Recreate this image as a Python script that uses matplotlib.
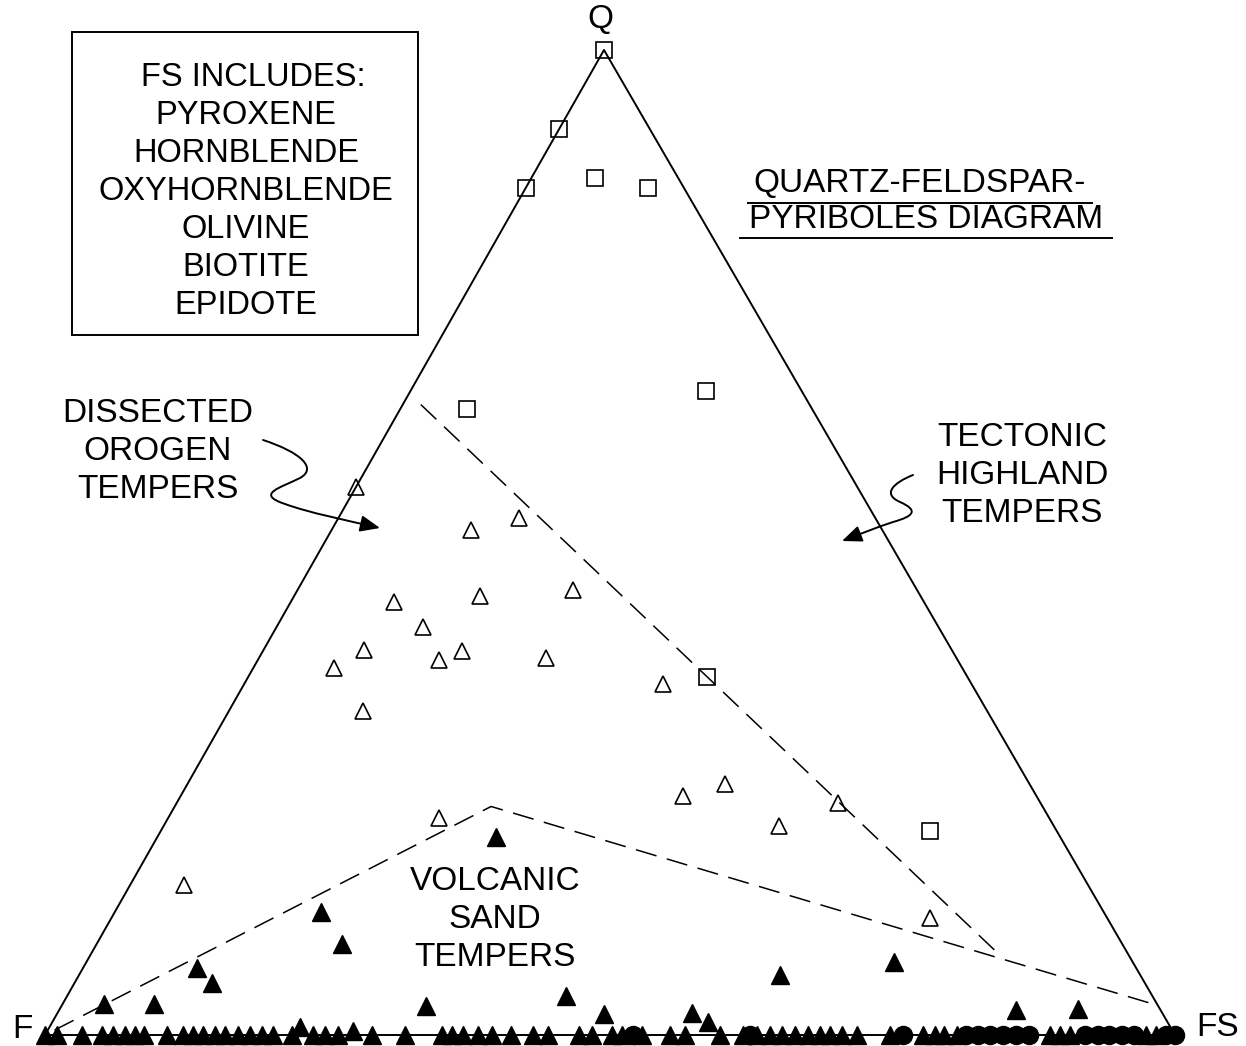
import numpy as np
import matplotlib.pyplot as plt
from matplotlib.path import Path
from matplotlib.patches import FancyArrowPatch, Rectangle

plt.rcParams['font.family'] = ['Liberation Sans', 'DejaVu Sans']

# compositions in percent, F = 100 - Q - FS
sq_q = [100, 92, 86, 87, 86, 63.6, 65.4, 36.3, 20.7]
sq_fs = [0, 0, 0, 5.6, 10.8, 5.9, 26.1, 40.6, 68.1]

open_q = [55.6, 51.3, 52.5, 44.0, 44.6, 45.2, 41.4, 39.1, 37.3, 38.1, 39.0,
          38.3, 35.6, 32.9, 24.3, 25.5, 21.2, 23.6, 22.0, 15.2, 11.9]
open_fs = [0, 12.3, 16.0, 9.1, 16.4, 24.4, 13.0, 8.9, 7.1, 16.0, 17.6,
           25.4, 37.1, 11.9, 44.4, 47.6, 54.5, 58.5, 24.0, 4.8, 72.4]

volc_q = [20.1, 12.5, 9.2, 6.8, 5.3, 3.1, 3.1, 2.9, 4.0, 2.1, 2.2, 1.3,
          6.1, 7.4, 2.5, 2.6, 0.8, 0.4]
volc_fs = [30.0, 18.2, 21.7, 10.1, 12.2, 3.7, 8.1, 32.3, 44.1, 48.4, 56.2,
           58.0, 62.0, 71.5, 84.7, 90.1, 22.2, 27.1]

# samples with no quartz (on the F-FS side)
base_tri_fs = [0, 1.1, 3.3, 5.0, 6.0, 7.1, 8.0, 8.8, 10.8, 12.2, 13.1, 14.0,
               15.0, 15.9, 17.1, 18.1, 19.2, 20.2, 21.9, 23.7, 24.8, 25.9,
               28.9, 31.9, 35.1, 36.0, 37.0, 38.3, 39.6, 41.2, 43.2, 44.5,
               47.3, 48.4, 50.2, 51.1, 52.8, 55.3, 56.6, 59.7, 61.8, 63.0,
               64.2, 65.2, 66.4, 67.5, 68.6, 69.5, 70.5, 71.9, 74.8, 77.7,
               78.8, 79.6, 80.7, 88.9, 89.8, 90.7, 97.4, 98.3]
base_circ_fs = [52.0, 62.4, 75.9, 81.5, 82.6, 83.6, 84.8, 85.9, 87.1, 92.0,
                93.2, 94.2, 95.3, 96.4, 99.2, 100]

# field boundaries
upper_q = [64.0, 8.1]
upper_fs = [1.6, 80.5]
volc_bnd_q = [0.5, 23.2, 3.0]
volc_bnd_fs = [0.6, 28.0, 97.0]

F_PX = (45, 1035)
FS_PX = (1175, 1035)
Q_PX = (604, 50)


def tern(q, fs):
    q = np.asarray(q, dtype=float) / 100
    fs = np.asarray(fs, dtype=float) / 100
    x = F_PX[0] + (FS_PX[0] - F_PX[0]) * fs + (Q_PX[0] - F_PX[0]) * q
    y = F_PX[1] + (Q_PX[1] - F_PX[1]) * q
    return x, y


fig = plt.figure(figsize=(12.46, 10.46), dpi=100)
ax = fig.add_axes([0, 0, 1, 1])
ax.set_xlim(0, 1246)
ax.set_ylim(1046, 0)
ax.axis('off')

# triangle
tx, ty = tern([0, 0, 100, 0], [0, 100, 0, 0])
ax.plot(tx, ty, color='black', lw=1.4, zorder=2)

# dashed boundaries
for bq, bfs in [(upper_q, upper_fs), (volc_bnd_q, volc_bnd_fs)]:
    bx, by = tern(bq, bfs)
    ax.plot(bx, by, color='black', lw=1.1, dashes=(14, 7), zorder=2)

# points
x, y = tern(sq_q, sq_fs)
ax.plot(x, y, 's', ms=11.5, mfc='none', mec='black', mew=1.2, zorder=4)
x, y = tern(open_q, open_fs)
ax.plot(x, y, '^', ms=11, mfc='none', mec='black', mew=1.2, zorder=4)
x, y = tern(volc_q, volc_fs)
ax.plot(x, y, '^', ms=12.5, color='black', zorder=4)
x, y = tern(np.zeros(len(base_tri_fs)), base_tri_fs)
ax.plot(x, y, '^', ms=12.5, color='black', zorder=4)
x, y = tern(np.zeros(len(base_circ_fs)), base_circ_fs)
ax.plot(x, y, 'o', ms=13, color='black', zorder=4)

# apex labels
fs_txt = 24
ax.text(600, 20, 'Q', fontsize=fs_txt, ha='center', va='center')
ax.text(22, 1030, 'F', fontsize=fs_txt, ha='center', va='center')
ax.text(1218, 1027, 'FS', fontsize=fs_txt, ha='center', va='center')

# legend box
ax.add_patch(Rectangle((72, 32), 346, 303, fill=False, lw=1.4, ec='black'))
box_lines = ['FS INCLUDES:', 'PYROXENE', 'HORNBLENDE', 'OXYHORNBLENDE',
             'OLIVINE', 'BIOTITE', 'EPIDOTE']
for i, s in enumerate(box_lines):
    xc = 253 if i == 0 else 246
    ax.text(xc, 77 + 38 * i, s, fontsize=23.5, ha='center', va='center')

# title
ax.text(920, 184, 'QUARTZ-FELDSPAR-', fontsize=fs_txt, ha='center', va='center')
ax.plot([748, 1092], [203, 203], color='black', lw=1.4)
ax.text(926, 220, 'PYRIBOLES DIAGRAM', fontsize=fs_txt, ha='center', va='center')
ax.plot([740, 1112], [238, 238], color='black', lw=1.4)

# field labels
for lines, xc, y0 in [(['DISSECTED', 'OROGEN', 'TEMPERS'], 158, 414),
                      (['TECTONIC', 'HIGHLAND', 'TEMPERS'], 1022, 438),
                      (['VOLCANIC', 'SAND', 'TEMPERS'], 495, 882)]:
    for i, s in enumerate(lines):
        ax.text(xc, y0 + 38 * i, s, fontsize=fs_txt, ha='center', va='center')

# squiggly arrows
C = Path.CURVE4
left = Path([(263, 440), (300, 452), (318, 468), (300, 478),
             (280, 488), (255, 494), (285, 504),
             (310, 513), (345, 520), (380, 528)],
            [Path.MOVETO, C, C, C, C, C, C, C, C, C])
right = Path([(913, 475), (893, 483), (882, 494), (900, 502),
              (918, 510), (915, 516), (893, 522),
              (875, 528), (860, 534), (842, 541)],
             [Path.MOVETO, C, C, C, C, C, C, C, C, C])
for p in (left, right):
    ax.add_patch(FancyArrowPatch(path=p, arrowstyle='-|>,head_length=12,head_width=5',
                                 color='black', lw=1.4, zorder=3))

fig.savefig('out.png', dpi=100)
